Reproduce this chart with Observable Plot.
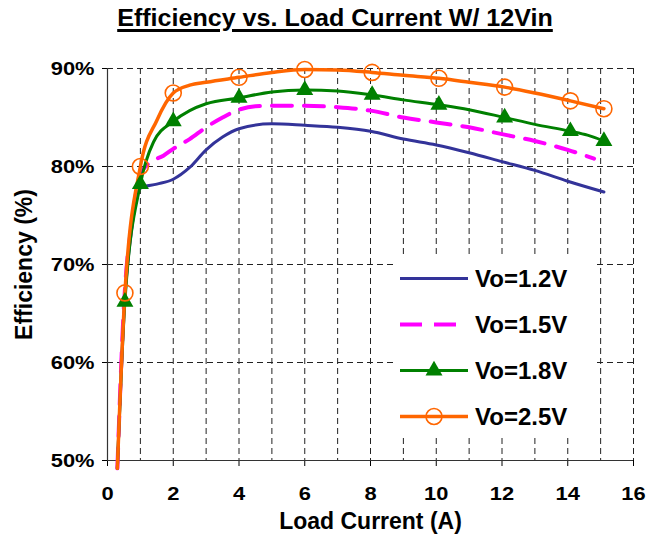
<!DOCTYPE html>
<html><head><meta charset="utf-8">
<script src="https://cdn.jsdelivr.net/npm/d3@7"></script>
<script src="https://cdn.jsdelivr.net/npm/@observablehq/plot@0.6"></script>
<style>
body{margin:0;background:#fff;font-family:"Liberation Sans",Arial,sans-serif;}
#wrap{position:relative;width:648px;height:549px;overflow:hidden;background:#fff;}
#title{height:40px;position:relative;}
#title span{position:absolute;left:335px;top:7px;transform:translateX(-50%) scaleX(1.09);font-weight:bold;font-size:23px;line-height:1;text-decoration:underline;text-decoration-thickness:3px;text-underline-offset:3px;white-space:nowrap;}
#legend{position:absolute;left:396px;top:254px;width:200px;height:182px;background:#fff;}
svg{display:block;}
</style></head>
<body>
<div id="wrap">
  <div id="title"><span>Efficiency vs. Load Current W/ 12Vin</span></div>
  <div id="chart"></div>
  <div id="legend"></div>
</div>
<script>
// ---- data ----
const seriesNames = ["Vo=1.2V", "Vo=1.5V", "Vo=1.8V", "Vo=2.5V"];

const current12 = [0.3, 0.5, 0.75, 1.0, 1.5, 2.0, 2.5, 3.0, 3.5, 4.0, 5.0, 6.0, 7.0, 8.0, 9.0, 10.0, 11.0, 12.0, 13.0, 14.0, 15.1];
const eff12     = [49.2, 65.0, 74.0, 77.8, 78.2, 78.7, 79.9, 81.7, 83.0, 83.85, 84.35, 84.2, 84.0, 83.6, 82.8, 82.2, 81.4, 80.5, 79.6, 78.5, 77.4];

const current15 = [0.3, 0.5, 0.75, 1.0, 1.25, 1.7, 2.0, 2.5, 3.0, 3.5, 4.0, 4.5, 5.0, 6.0, 7.0, 8.0, 9.0, 10.0, 11.0, 12.0, 13.0, 14.0, 14.8];
const eff15     = [49.2, 65.8, 74.5, 79.2, 80.3, 81.1, 81.8, 82.8, 84.0, 85.0, 85.8, 86.15, 86.2, 86.2, 86.05, 85.7, 85.0, 84.5, 84.0, 83.3, 82.6, 81.7, 80.8];

const current18 = [0.3, 0.53, 1.0, 1.4, 2.0, 2.5, 3.0, 4.0, 5.0, 6.0, 7.0, 8.05, 9.0, 10.08, 11.0, 12.08, 13.0, 14.08, 14.6, 15.1];
const eff18     = [49.2, 66.2, 78.2, 82.5, 84.6, 85.7, 86.4, 87.0, 87.6, 87.8, 87.7, 87.3, 86.8, 86.3, 85.8, 85.0, 84.3, 83.6, 83.2, 82.6];

const current25 = [0.3, 0.53, 1.0, 1.5, 2.0, 2.5, 3.0, 4.0, 5.0, 6.0, 7.0, 8.05, 9.0, 10.08, 11.0, 12.08, 13.0, 14.08, 15.1];
const eff25     = [49.2, 67.1, 80.0, 84.7, 87.5, 88.3, 88.6, 89.1, 89.6, 89.9, 89.85, 89.6, 89.3, 89.0, 88.6, 88.1, 87.5, 86.7, 85.9];

const markerCurrents = [0.53, 1.0, 2.0, 4.0, 6.0, 8.05, 10.08, 12.08, 14.08, 15.1];

const xTicks = [0, 2, 4, 6, 8, 10, 12, 14, 16];
const yTicks = [50, 60, 70, 80, 90];
const xGrid = [1, 2, 3, 4, 5, 6, 7, 8, 9, 10, 11, 12, 13, 14, 15, 16];
const yGrid = [60, 70, 80, 90];

// ---- styles ----
const colors = ["#333399", "#FF00FF", "#008000", "#FF6600"];
const widths = [3, 4, 3, 3.5];
const dashes = [null, "20,12", null, null];

const table = (xs, ys, name) => xs.map((x, i) => ({series: name, current: x, eff: ys[i]}));
const data = [
  table(current12, eff12, seriesNames[0]),
  table(current15, eff15, seriesNames[1]),
  table(current18, eff18, seriesNames[2]),
  table(current25, eff25, seriesNames[3])
];
const isMarker = d => markerCurrents.includes(d.current);

const lineMarks = data.map((rows, i) => Plot.line(rows, {
  x: "current", y: "eff", stroke: colors[i], strokeWidth: widths[i],
  strokeDasharray: dashes[i] || undefined, curve: "monotone-x", strokeLinejoin: "round"
}));

const chart = Plot.plot({
  width: 648, height: 509,
  marginTop: 28, marginBottom: 89, marginLeft: 107, marginRight: 15,
  style: {fontFamily: "'Liberation Sans', Arial, sans-serif", fontSize: "19px", fontWeight: "bold", color: "#000", background: "#fff", overflow: "visible"},
  x: {domain: [0, 16], ticks: xTicks, tickFormat: d => String(d), tickSize: 6, tickPadding: 20, label: null},
  y: {domain: [50, 90], ticks: yTicks, tickFormat: d => d + "%", tickSize: 5, tickPadding: 8, label: null},
  marks: [
    Plot.ruleX(xGrid, {stroke: "#222", strokeWidth: 1, strokeDasharray: "6,4"}),
    Plot.ruleY(yGrid, {stroke: "#222", strokeWidth: 1, strokeDasharray: "6,4"}),
    Plot.ruleX([0], {stroke: "#333", strokeWidth: 1.2}),
    Plot.ruleY([50], {stroke: "#333", strokeWidth: 1.2}),
    ...lineMarks,
    Plot.dot(data[2].filter(isMarker), {x: "current", y: "eff", symbol: "triangle", r: 6.3, fill: colors[2], stroke: "none"}),
    Plot.dot(data[3].filter(isMarker), {x: "current", y: "eff", symbol: "circle", r: 8, fill: "none", stroke: colors[3], strokeWidth: 1.6}),
    Plot.text(["Efficiency (%)"], {text: d => d, frameAnchor: "left", textAnchor: "middle", lineAnchor: "middle", dx: -83, rotate: -90, fontSize: 23, fontWeight: "bold"}),
    Plot.text(["Load Current (A)"], {text: d => d, frameAnchor: "bottom", textAnchor: "middle", lineAnchor: "middle", dy: 61, fontSize: 23, fontWeight: "bold"})
  ]
});
document.getElementById("chart").appendChild(chart);

// widen tick labels slightly to match the reference lettering
chart.querySelectorAll('g[aria-label="x-axis tick label"] text, g[aria-label="y-axis tick label"] text').forEach(t => {
  try {
    const w = t.getComputedTextLength();
    if (w > 0) { t.setAttribute("textLength", (w * 1.15).toFixed(1)); t.setAttribute("lengthAdjust", "spacingAndGlyphs"); }
  } catch (e) {}
});

// ---- legend ----
const leg = d3.select("#legend").append("svg").attr("width", 200).attr("height", 182);
seriesNames.forEach((name, i) => {
  const cy = 24.5 + i * 46;
  leg.append("line").attr("x1", 4).attr("x2", 72).attr("y1", cy).attr("y2", cy)
    .attr("stroke", colors[i]).attr("stroke-width", widths[i])
    .attr("stroke-dasharray", dashes[i] ? "22,12" : null);
  if (i === 2) leg.append("path").attr("d", d3.symbol(d3.symbolTriangle, Math.PI * 6.3 * 6.3)()).attr("transform", `translate(38,${cy})`).attr("fill", colors[2]);
  if (i === 3) leg.append("circle").attr("cx", 38).attr("cy", cy).attr("r", 8).attr("fill", "none").attr("stroke", colors[3]).attr("stroke-width", 1.6);
  leg.append("text").attr("x", 79).attr("y", cy + 8.6).text(name)
    .attr("font-family", "'Liberation Sans', Arial, sans-serif").attr("font-weight", "bold").attr("font-size", 24).attr("fill", "#000");
});
</script>
</body></html>
